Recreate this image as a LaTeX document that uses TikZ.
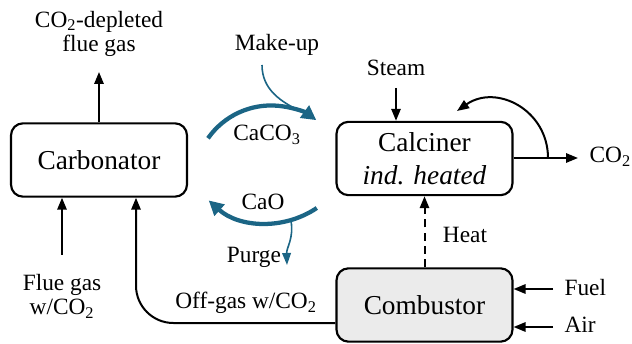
\documentclass[tikz,border=0pt]{standalone}
\usepackage{fontspec}
\setmainfont{Liberation Serif}
\usetikzlibrary{arrows.meta,positioning,calc}
\definecolor{loopblue}{HTML}{1B6585}
\definecolor{combgray}{HTML}{EBEBEB}
\newcommand{\sub}[1]{\textsubscript{#1}}

\begin{document}
\begin{tikzpicture}[
  reactor/.style={draw,line width=1.6pt,rounded corners=9pt,minimum width=132pt,
                  minimum height=55pt,align=center,font=\fontsize{20.5}{24.5}\selectfont},
  lbl/.style={font=\fontsize{17.5}{18.5}\selectfont,align=center,inner sep=1pt},
  arr/.style={-{Triangle[length=9pt,width=7pt]},line width=1.5pt},
  flow/.style={-{Triangle[length=11pt,width=11pt]},line width=3.2pt,loopblue},
  side/.style={line width=1.2pt,loopblue},
  x=0.75pt, y=0.75pt
]
\useasboundingbox (0,0) rectangle (632,343);

%% Reactors
\node[reactor]                (carb) at (99,  183)   {Carbonator};
\node[reactor]                (calc) at (424.5,184.5) {Calciner\\\textit{ind. heated}};
\node[reactor,fill=combgray]  (comb) at (424.5,38)   {Combustor};

%% Carbonator: in- and outflows
\node[lbl] (depl) at (99,309) {CO\sub{2}-depleted\\flue gas};
\coordinate (deplend) at (99,271);
\draw[arr] (carb.north) -- (deplend);

\node[lbl] (flue) at (62,47) {Flue gas\\w/CO\sub{2}};
\coordinate (fluestart) at (62,88);
\draw[arr] (fluestart) -- (fluestart |- carb.south);

%% Off-gas from combustor back to carbonator
\coordinate (offstart) at ($(comb.west)+(0,-18)$);
\coordinate (offend) at ($(carb.south)+(37,0)$);
\draw[arr,rounded corners=28pt] (offstart) -| (offend);
\node[lbl] (offgas) at (246,40) {Off-gas w/CO\sub{2}};

%% Calciner: steam, CO2, recycle
\node[lbl] (steam) at (396,275) {Steam};
\coordinate (steamstart) at (396,255);
\draw[arr] (steamstart) -- (steamstart |- calc.north);

\coordinate (co2end) at (578,185);
\node[lbl,anchor=west] (co2) at (588,186) {CO\sub{2}};
\draw[arr] (calc.east |- co2end) -- (co2end);

\coordinate (loopstart) at (548,185);
\coordinate (loopend)   at (457,232);
\draw[arr] (loopstart) to[out=90,in=35,looseness=1.2] (loopend);

%% Heat from combustor
\draw[arr,dashed,dash pattern=on 6pt off 4pt] (comb.north) -- (calc.south);
\node[lbl] (heat) at (465,108) {Heat};

%% Fuel / Air
\node[lbl,anchor=west] (fuel) at (563,55) {Fuel};
\node[lbl,anchor=west] (air)  at (563,18) {Air};
\coordinate (fuelstart) at (553,54);
\coordinate (airstart)  at (553,16);
\draw[arr] (fuelstart) -- (fuelstart -| comb.east);
\draw[arr] (airstart)  -- (airstart -| comb.east);

%% Solids loop (circular arcs)
\coordinate (caco3start) at (208,204.7);
\coordinate (caostart)   at (316.8,135);
\draw[flow] (caco3start) arc[start angle=145,end angle=54,radius=77];
\draw[flow] (caostart) arc[start angle=-56,end angle=-132,radius=88];
\node[lbl] (caco3) at (267,208) {CaCO\sub{3}};
\node[lbl] (cao)   at (263,141) {CaO};

%% Make-up and purge
\node[lbl] (makeup) at (277,298) {Make-up};
\coordinate (makeupstart) at (262,278);
\coordinate (makeupend)   at (303.5,230.3);
\draw[side] (makeupstart) to[out=-90,in=155] (makeupend);

\node[lbl] (purge) at (254,86) {Purge};
\coordinate (purgestart) at (291,122);
\coordinate (purgeend)   at (287,78);
\draw[side,-{Triangle[length=9pt,width=6.5pt]}] (purgestart) to[out=-80,in=92] (purgeend);

\end{tikzpicture}
\end{document}
